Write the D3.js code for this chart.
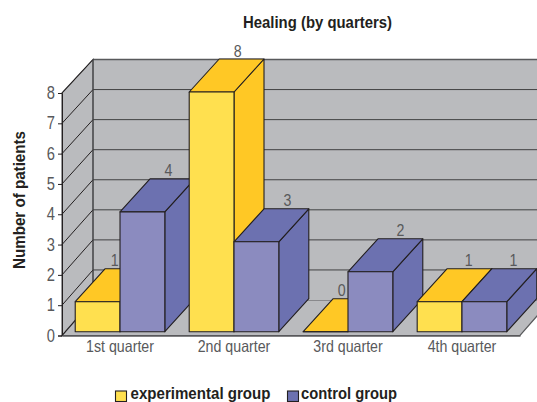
<!DOCTYPE html>
<html><head><meta charset="utf-8">
<script src="https://cdnjs.cloudflare.com/ajax/libs/d3/7.8.5/d3.min.js"></script>
<style>
html,body{margin:0;padding:0;background:#fff;overflow:hidden}
svg{display:block}
svg text{font-family:"Liberation Sans",sans-serif}
</style></head><body>
<svg id="c" width="537" height="402"></svg>
<script>
const quarters = ["1st quarter","2nd quarter","3rd quarter","4th quarter"];
const experimental = [1,8,0,1];
const control = [4,3,2,1];
const yTicks = [0,1,2,3,4,5,6,7,8];
const seriesNames = ["experimental group","control group"];
const labelShift = [[17,26],[26,31],[16,30],[29,29]];

const dark="#231f20", grey="#58595b", wall="#babbbe";
const fills=[{front:"#ffe04f",top:"#ffc825",key:"#ffe04f"},{front:"#8b8bbf",top:"#6c71b0",key:"#6c71b0"}];
const svg=d3.select("#c");
// the reference face is condensed: squeeze the available sans to the same width
const squeeze=(sel,k)=>sel.each(function(){
  this.setAttribute("textLength",(this.getComputedTextLength()*k).toFixed(2));
  this.setAttribute("lengthAdjust","spacingAndGlyphs");
});
const fitTo=(sel,w)=>sel.attr("textLength",w).attr("lengthAdjust","spacingAndGlyphs");

const depthX=30, depthY=-33;
const x=d3.scaleBand().domain(quarters).range([62,520]).paddingInner(.214).paddingOuter(.116);
const xs=d3.scaleBand().domain([0,1]).range([0,x.bandwidth()]);
const yFront=d3.scaleLinear().domain([0,8]).range([335.5,93]);
const yBack=d3.scaleLinear().domain([0,8]).range([300,59.5]);
const yBar=d3.scaleLinear().domain([0,8]).range([331.7,92]);
const xL=62, xB=93, xR=520, xRB=551;
const poly=(pts)=>"M"+pts.map(p=>p.join(",")).join("L")+"Z";

// walls and floor
svg.append("path").attr("d",poly([[xL,yFront(0)],[xR,yFront(0)],[xRB,yBack(0)],[xB,yBack(0)]])).attr("fill",wall).attr("stroke",grey).attr("stroke-width",1.2);
svg.append("path").attr("d",poly([[xB,yBack(8)],[560,yBack(8)],[560,yBack(0)],[xB,yBack(0)]])).attr("fill",wall);
svg.append("path").attr("d",poly([[xL,yFront(8)],[xB,yBack(8)],[xB,yBack(0)],[xL,yFront(0)]])).attr("fill",wall).attr("stroke",grey).attr("stroke-width",1.2);
svg.append("path").attr("d",`M${xB},${yBack(8)}H560`).attr("stroke",grey).attr("stroke-width",1.6);

const grid=svg.append("g").attr("fill","none").attr("stroke",dark).attr("stroke-width",1);
yTicks.forEach(t=>{
  grid.append("path").attr("d",`M${xL},${yFront(t)}L${xB},${yBack(t)}`);
  if(t>0&&t<8) grid.append("path").attr("d",`M${xB},${yBack(t)}H560`).attr("stroke","#414042");
});
grid.append("path").attr("d",`M${xB},${yBack(0)}V${yBack(8)}`).attr("stroke","#414042");

// bars, painted back to front
const rows=quarters.flatMap((q,i)=>[experimental[i],control[i]].map((v,s)=>({q,i,s,v})));
const bars=svg.selectAll("g.bar").data(rows).join("g").attr("class","bar")
  .attr("stroke",dark).attr("stroke-width",1.1).attr("stroke-linejoin","round");
bars.each(function(d){
  const g=d3.select(this), a=x(d.q)+xs(d.s), b=a+xs.bandwidth(), t=yBar(d.v), z=yBar(0), c=fills[d.s];
  if(d.v>0) g.append("path").attr("d",poly([[b,z],[b+depthX,z+depthY],[b+depthX,t+depthY],[b,t]])).attr("fill",c.top);
  g.append("path").attr("d",poly([[a,t],[a+depthX,t+depthY],[b+depthX,t+depthY],[b,t]])).attr("fill",c.top);
  g.append("path").attr("d",poly([[a,t],[b,t],[b,z],[a,z]])).attr("fill",c.front);
});

// value labels
svg.selectAll("text.val").data(rows).join("text").attr("class","val")
  .attr("x",d=>x(d.q)+xs(d.s)+xs.bandwidth()/2+labelShift[d.i][d.s])
  .attr("y",d=>yBar(d.v)+depthY-2.5)
  .attr("text-anchor","middle").attr("font-size",16.5).attr("fill",grey).text(d=>d.v)
  .call(squeeze,.86);

// axes
const ya=svg.append("g").attr("transform",`translate(${xL},0)`)
  .call(d3.axisLeft(yFront).tickValues(yTicks).tickFormat(d3.format("d")).tickSize(4).tickPadding(3));
ya.select(".domain").attr("stroke",dark);
ya.selectAll(".tick line").attr("stroke",dark);
ya.selectAll("text").attr("font-size",17.5).attr("font-family",null).attr("fill",grey).call(squeeze,.84);

const xa=svg.append("g").attr("transform",`translate(0,${yFront(0)})`)
  .call(d3.axisBottom(x).tickSize(0).tickPadding(5));
xa.attr("font-family",null);
ya.attr("font-family",null);
xa.select(".domain").attr("stroke",grey).attr("stroke-width",1.4);
xa.selectAll("text").attr("font-size",16.5).attr("fill",grey).call(squeeze,.86);

// titles
svg.append("text").attr("x",317.5).attr("y",28).attr("text-anchor","middle")
  .attr("font-size",16.5).attr("font-weight","bold").attr("fill",dark).text("Healing (by quarters)").call(fitTo,149);
svg.append("text").attr("transform","translate(25,200) rotate(-90)").attr("text-anchor","middle")
  .attr("font-size",16).attr("font-weight","bold").attr("fill",dark).text("Number of patients").call(fitTo,138);

// legend
const lg=[{sx:115.5,tx:130.5,w:140},{sx:287.5,tx:301,w:96}];
seriesNames.forEach((n,i)=>{
  svg.append("rect").attr("x",lg[i].sx).attr("y",391).attr("width",11).attr("height",10.5)
    .attr("fill",fills[i].key).attr("stroke",dark).attr("stroke-width",1.1);
  svg.append("text").attr("x",lg[i].tx).attr("y",399).attr("font-size",16.5).attr("font-weight","bold").attr("fill",dark).text(n).call(fitTo,lg[i].w);
});
</script>
</body></html>
